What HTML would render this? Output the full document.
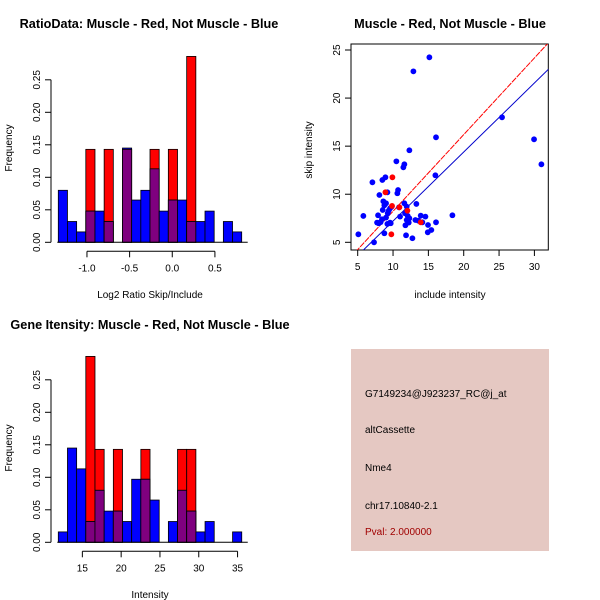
<!DOCTYPE html>
<html><head><meta charset="utf-8">
<style>
html,body{margin:0;padding:0;background:#fff;}
svg{display:block;font-family:"Liberation Sans",Arial,sans-serif;}
</style></head>
<body>
<svg id="chart" width="600" height="600" viewBox="0 0 600 600">
  <rect width="600" height="600" fill="#fff"/>
  <text x="149" y="28" font-size="12.7" font-weight="bold" text-anchor="middle">RatioData: Muscle - Red, Not Muscle - Blue</text>
  <text x="450" y="28" font-size="12.7" font-weight="bold" text-anchor="middle">Muscle - Red, Not Muscle - Blue</text>
  <text x="150" y="329" font-size="12.7" font-weight="bold" text-anchor="middle">Gene Itensity: Muscle - Red, Not Muscle - Blue</text>
  <text x="150" y="298" font-size="10" text-anchor="middle">Log2 Ratio Skip/Include</text>
  <text x="150" y="598" font-size="10" text-anchor="middle">Intensity</text>
  <text x="450" y="298" font-size="10" text-anchor="middle">include intensity</text>
  <text transform="translate(12,148) rotate(-90)" font-size="10" text-anchor="middle">Frequency</text>
  <text transform="translate(12,448) rotate(-90)" font-size="10" text-anchor="middle">Frequency</text>
  <text transform="translate(312,150) rotate(-90)" font-size="10" text-anchor="middle">skip intensity</text>
  <g>
    <rect x="351" y="349" width="198" height="202" fill="#e5c8c2"/>
    <text x="365" y="397" font-size="10">G7149234@J923237_RC@j_at</text>
    <text x="365" y="433" font-size="10">altCassette</text>
    <text x="365" y="471" font-size="10">Nme4</text>
    <text x="365" y="509" font-size="10">chr17.10840-2.1</text>
    <text x="365" y="535" font-size="10" fill="#a00000">Pval: 2.000000</text>
  </g>
</svg>
<script>
// ---- Ratio histogram data ----
var ratioBreakStart = -1.336;
var ratioBinWidth = 0.1075;
var ratioBlue = [0.080,0.032,0.016,0.048,0.048,0.032,0,0.145,0.065,0.080,0.113,0.048,0.065,0.065,0.032,0.032,0.048,0,0.032,0.016];
var ratioRed  = [0,0,0,0.143,0,0.143,0,0.143,0,0,0.143,0,0.143,0,0.286,0,0,0,0,0];
var ratioXTicks = [-1.0,-0.5,0.0,0.5];
var ratioXTickLabels = ["-1.0","-0.5","0.0","0.5"];
// ---- Intensity histogram data ----
var intBreakStart = 11.9;
var intBinWidth = 1.182;
var intBlue = [0.016,0.145,0.113,0.032,0.080,0.048,0.048,0.032,0.097,0.097,0.065,0,0.032,0.080,0.048,0.016,0.032,0,0,0.016];
var intRed  = [0,0,0,0.286,0.143,0,0.143,0,0,0.143,0,0,0,0.143,0.143,0,0,0,0,0];
var intXTicks = [15,20,25,30,35];
var intXTickLabels = ["15","20","25","30","35"];
var freqTicks = [0,0.05,0.10,0.15,0.20,0.25];
var freqTickLabels = ["0.00","0.05","0.10","0.15","0.20","0.25"];
// ---- Scatter data ----
var blueX = [5.09,5.80,7.08,7.31,8.07,7.88,7.74,7.97,8.25,8.44,8.54,8.63,8.77,8.92,8.49,9.20,9.01,9.25,9.01,8.77,9.39,9.58,9.81,9.58,9.20,9.67,10.47,10.61,10.71,10.99,10.85,11.46,11.60,11.60,11.70,11.75,11.93,12.08,12.22,11.93,11.84,12.31,12.31,12.88,12.74,13.16,13.30,13.58,13.92,14.15,14.58,14.95,14.91,15.14,15.42,15.99,16.08,16.08,18.40,25.42,29.95,30.99];
var blueY = [5.83,7.74,11.24,5.0,9.92,7.81,7.05,6.98,7.11,7.39,8.36,9.26,8.85,11.76,11.48,10.20,9.06,8.02,7.57,5.94,8.29,8.54,8.71,7.05,6.91,6.98,13.42,10.10,10.44,7.67,8.64,12.80,13.11,9.06,8.02,6.77,7.32,7.74,7.05,8.71,5.73,14.57,7.50,22.78,5.42,7.32,8.99,7.25,7.77,7.08,7.67,6.80,6.04,24.24,6.28,11.97,15.92,7.08,7.81,18.00,15.71,13.11];
var redX = [9.91,9.86,9.76,8.92,10.90,12.03,13.92];
var redY = [11.76,8.78,5.83,10.20,8.64,8.29,7.08];
var fitRed = [0.26,0.797];   // intercept, slope
var fitBlue = [0.03,0.718];
var scatXTicks = [5,10,15,20,25,30];
var scatYTicks = [5,10,15,20,25];

var NS = "http://www.w3.org/2000/svg";
var svg = document.getElementById("chart");
function mk(tag, attrs, parent){
  var e = document.createElementNS(NS, tag);
  for (var k in attrs) e.setAttribute(k, attrs[k]);
  (parent||svg).appendChild(e);
  return e;
}

function drawHist(g, y0, breakStart, binW, blue, red, ticks, tickLabels, xpx0, xpxPerUnit, dataName){
  var xS = function(v){ return xpx0 + (v - breakStart) * xpxPerUnit; };
  var yS = function(f){ return y0 - f * 650; };
  var grp = mk("g", {});
  
  
  for (var i = 0; i < blue.length; i++){
    var xl = xS(breakStart + i*binW), xr = xS(breakStart + (i+1)*binW);
    var b = blue[i], r = red[i];
    if (r > 0){
      var rr = mk("rect", {x:xl, y:yS(r), width:xr-xl, height:yS(0)-yS(r), fill:"#ff0000", stroke:"#000", "stroke-width":0.8}, grp);
      
      
    }
    if (b > 0){
      var br = mk("rect", {x:xl, y:yS(b), width:xr-xl, height:yS(0)-yS(b), fill:"#0000ff", stroke:"#000", "stroke-width":0.8}, grp);
      
      
    }
    if (b > 0 && r > 0){
      var m = Math.min(b, r);
      var pr = mk("rect", {x:xl, y:yS(m), width:xr-xl, height:yS(0)-yS(m), fill:"#7f007f", stroke:"#000", "stroke-width":0.8}, grp);
      
      
    }
  }
  var yax = mk("g", {}, grp);
  
  
  mk("line", {x1:51, x2:51, y1:yS(0), y2:yS(0.25), stroke:"#000"}, yax);
  for (var j = 0; j < freqTicks.length; j++){
    var ty = yS(freqTicks[j]);
    mk("line", {x1:45, x2:51, y1:ty, y2:ty, stroke:"#000"}, yax);
    var t = mk("text", {transform:"translate(40,"+ty+") rotate(-90)", "font-size":10, "text-anchor":"middle"}, yax);
    t.textContent = freqTickLabels[j];
  }
  mk("line", {x1:xS(breakStart)-1, x2:xS(breakStart+blue.length*binW)+6, y1:yS(0), y2:yS(0), stroke:"#000"}, grp);
  var xax = mk("g", {}, grp);
  
  
  var ax0 = xS(ticks[0]), ax1 = xS(ticks[ticks.length-1]);
  mk("line", {x1:ax0, x2:ax1, y1:y0+9, y2:y0+9, stroke:"#000"}, xax);
  for (var k = 0; k < ticks.length; k++){
    var tx = xS(ticks[k]);
    mk("line", {x1:tx, x2:tx, y1:y0+9, y2:y0+15, stroke:"#000"}, xax);
    var tt = mk("text", {x:tx, y:y0+29, "font-size":10, "text-anchor":"middle"}, xax);
    tt.textContent = tickLabels[k];
  }
}
drawHist(svg, 242.3, ratioBreakStart, ratioBinWidth, ratioBlue, ratioRed, ratioXTicks, ratioXTickLabels, 58.3, 85.3, 'ratio-histogram');
drawHist(svg, 542.3, intBreakStart, intBinWidth, intBlue, intRed, intXTicks, intXTickLabels, 58.3, 7.76, 'intensity-histogram');

var sx = function(v){ return 357.7 + (v-5) * 7.068; };
var sy = function(v){ return 242.3 - (v-5) * 9.615; };
var sg = mk("g", {});


mk("defs", {}, sg).innerHTML = '<clipPath id="plotclip"><rect x="351" y="44" width="197.3" height="206"/></clipPath>';
mk("rect", {x:351, y:44, width:197.3, height:206, fill:"none", stroke:"#000"}, sg);
var lx0 = 4, lx1 = 33;
var lr = mk("line", {x1:sx(lx0), y1:sy(fitRed[0]+fitRed[1]*lx0), x2:sx(lx1), y2:sy(fitRed[0]+fitRed[1]*lx1), stroke:"#ff0000", "stroke-dasharray":"6,1", "clip-path":"url(#plotclip)"}, sg);


var lb = mk("line", {x1:sx(lx0), y1:sy(fitBlue[0]+fitBlue[1]*lx0), x2:sx(lx1), y2:sy(fitBlue[0]+fitBlue[1]*lx1), stroke:"#0000cc", "clip-path":"url(#plotclip)"}, sg);


for (var i = 0; i < blueX.length; i++){
  var c = mk("circle", {cx:sx(blueX[i]), cy:sy(blueY[i]), r:2.9, fill:"#0000ff"}, sg);
  
  
}
for (var i = 0; i < redX.length; i++){
  var c2 = mk("circle", {cx:sx(redX[i]), cy:sy(redY[i]), r:2.9, fill:"#ff0000"}, sg);
  
  
}
var sxa = mk("g", {}, sg);


for (var k = 0; k < scatXTicks.length; k++){
  var tx = sx(scatXTicks[k]);
  mk("line", {x1:tx, x2:tx, y1:250, y2:256, stroke:"#000"}, sxa);
  var t = mk("text", {x:tx, y:270, "font-size":10, "text-anchor":"middle"}, sxa);
  t.textContent = scatXTicks[k];
}
var sya = mk("g", {}, sg);


for (var k = 0; k < scatYTicks.length; k++){
  var ty = sy(scatYTicks[k]);
  mk("line", {x1:345, x2:351, y1:ty, y2:ty, stroke:"#000"}, sya);
  var t2 = mk("text", {transform:"translate(340,"+ty+") rotate(-90)", "font-size":10, "text-anchor":"middle"}, sya);
  t2.textContent = scatYTicks[k];
}
</script>
</body></html>
